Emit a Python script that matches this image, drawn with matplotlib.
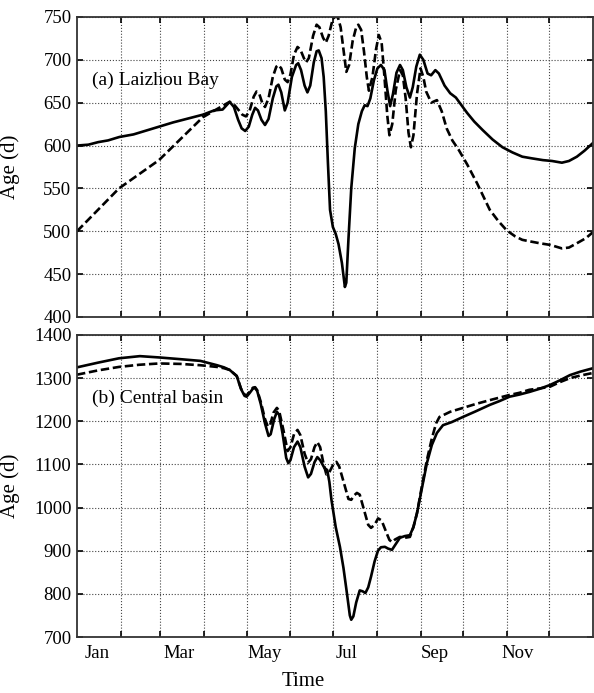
import matplotlib.pyplot as plt
from matplotlib.ticker import FixedLocator, NullFormatter

plt.rcParams['font.family'] = ['Liberation Serif', 'DejaVu Serif']

# day of year / age (d)
a_solid_day = [0, 8, 15, 22, 30, 40, 50, 58, 68, 75, 82, 89, 97, 103, 108,
               111, 114, 116.5, 119, 121.5, 124, 126, 128, 130.5, 133, 135.5, 138.5,
               141, 142.5, 144.5, 147, 149, 152, 155, 156.5, 158.5, 161, 163, 165,
               167.5, 169.5, 171, 173, 174.5, 176, 177.5, 179, 181, 183, 185, 187.4,
               189.5, 190.5, 192, 194, 196.5, 199, 201.5, 203.5, 205.5, 207.5, 210,
               212.5, 215, 217.5, 219.5, 221.5, 223.5, 226, 228.5, 230.5, 233, 235.5,
               237.5, 240, 242.5, 245, 248, 250.5, 253.5, 256, 260, 264, 268, 272,
               276, 281, 287, 294, 301, 308, 315, 322, 329.6, 336, 343, 348, 353.6,
               359, 365]
a_solid_age = [600, 601, 604, 606, 610, 613, 618, 622, 627, 630, 633, 636, 641, 642, 651,
               645, 630, 620, 617, 622, 636, 644, 641, 630, 624, 631, 655,
               669, 671, 662, 641, 650, 680, 694, 696, 688, 670, 662, 670,
               697, 710, 711, 702, 680, 640, 580, 525, 505, 497, 485, 463,
               435, 440, 490, 550, 597, 625, 640, 647, 646, 655, 676,
               690, 694, 688, 665, 646, 660, 685, 694, 688, 668, 656,
               668, 692, 706, 700, 684, 682, 688, 684, 670, 661, 656, 647,
               638, 628, 618, 607, 598, 592, 587, 585, 583, 582, 580, 582, 587,
               594, 603]

a_dash_day = [0, 29.7, 58, 89, 101.6, 108, 111, 114, 117, 119.5, 122, 125, 127, 129,
              131, 133, 135.5, 138.5, 141, 142.5, 144.5, 147, 149, 151, 153.5, 156,
              158, 160.5, 162, 164, 167, 169.5, 171.5, 174, 176, 178, 180.5, 182,
              184.5, 186.5, 188.5, 190.5, 192.5, 195, 197.5, 199, 201, 203, 205,
              206.5, 209, 211.5, 213.5, 215.5, 217.5, 219.5, 221, 223, 225.5, 228.5,
              230.5, 232.5, 234.5, 236.2, 238, 240.5, 243, 245, 247, 250.6, 254.6,
              258, 261.5, 265.5, 270, 276, 283, 292, 298, 304, 310, 315, 321, 327.4,
              335, 343, 348, 353.6, 360, 365]
a_dash_age = [500, 550, 583, 633, 645, 651, 648, 642, 636, 634, 640, 657, 663, 660,
              650, 645, 655, 680, 692, 694, 690, 677, 674, 683, 706, 715,
              712, 702, 697, 702, 728, 741, 738, 726, 720, 728, 745, 750,
              750, 738, 712, 686, 694, 722, 738, 741, 735, 710, 680,
              664, 680, 712, 729, 720, 680, 635, 612, 625, 665, 688,
              682, 655, 615, 598, 612, 660, 690, 680, 663, 650, 653,
              640, 620, 606, 595, 578, 556, 525, 512, 501, 494, 490, 488, 486,
              484, 480, 481, 486, 492, 499]

b_solid_day = [0, 15, 29.7, 44.5, 58, 73, 87.3, 99, 104, 108, 113, 116, 118.5, 120,
               122, 124.5, 126, 127.5, 130, 133, 135.5, 137, 139.5, 141.4, 143, 145.5,
               148, 149.5, 151, 153.5, 156, 158, 161, 163.5, 165.5, 168, 170, 172,
               175, 177, 178.5, 180, 183, 186, 188.5, 191, 193, 194, 195.5, 197.5,
               200, 202, 204, 206, 208, 210.5, 212.9, 215, 217.8, 220, 222.8, 225,
               228.4, 232, 235.5, 238, 240.5, 244, 247.5, 251, 254.6, 258.9, 265,
               273, 282, 292, 299, 306, 313, 320, 327, 334.5, 341, 348.7, 356, 365]
b_solid_age = [1325, 1336, 1346, 1351, 1348, 1344, 1340, 1330, 1325, 1319, 1305, 1275, 1259, 1257,
               1265, 1276, 1277, 1270, 1240, 1195, 1166, 1170, 1205, 1222, 1215, 1170,
               1115, 1103, 1110, 1140, 1153, 1140, 1095, 1070, 1078, 1105, 1117, 1110,
               1092, 1087, 1060, 1018, 955, 909, 860, 800, 750, 740, 748, 780,
               808, 806, 802, 815, 840, 875, 900, 908, 909, 905, 902, 913,
               930, 934, 936, 955, 987, 1045, 1103, 1145, 1173, 1191, 1198,
               1210, 1223, 1238, 1247, 1257, 1262, 1268, 1275, 1284, 1294, 1307, 1315, 1323]

b_dash_day = [0, 15, 29.7, 44, 58, 73, 87, 99, 104, 108, 113, 116, 118.5, 120, 122,
              124.5, 126, 127.5, 130, 133, 135, 136.5, 139, 141.4, 143, 146, 149, 151,
              153.5, 156, 158, 161, 163.4, 165.5, 168, 170, 172, 174.5, 176.4, 178.5,
              181, 183.5, 185.5, 189, 192, 194, 196, 198, 200, 203, 206, 208, 210.5,
              213, 215.5, 218.5, 221, 222.8, 225, 228.4, 232, 235.5, 238, 240.5, 244,
              247.5, 251, 254, 256.4, 264, 273, 282, 292, 299, 306, 313, 320, 327,
              334.5, 341, 348.7, 356, 365]
b_dash_age = [1308, 1318, 1326, 1331, 1334, 1333, 1330, 1326, 1323, 1319, 1305, 1276, 1262, 1260, 1268,
              1278, 1279, 1272, 1245, 1205, 1188, 1190, 1220, 1231, 1224, 1180, 1131, 1140,
              1170, 1180, 1168, 1125, 1104, 1112, 1140, 1152, 1140, 1100, 1077, 1082,
              1098, 1106, 1095, 1055, 1020, 1018, 1028, 1034, 1030, 995, 960, 953, 960,
              975, 970, 945, 925, 920, 926, 932, 930, 932, 955, 987, 1050,
              1110, 1160, 1195, 1210, 1222, 1231, 1240, 1249, 1255, 1261, 1266, 1273, 1276,
              1280, 1290, 1300, 1306, 1312]

month_starts = [31, 59, 90, 120, 151, 181, 212, 243, 273, 304, 334]
label_days = [14, 72, 133, 191, 253, 312]
label_names = ['Jan', 'Mar', 'May', 'Jul', 'Sep', 'Nov']

fig = plt.figure(figsize=(5.94, 6.93), dpi=100)
ax1 = fig.add_axes([0.1296, 0.5426, 0.8687, 0.4329])
ax2 = fig.add_axes([0.1296, 0.0808, 0.8687, 0.4358])

panels = [
    (ax1, a_solid_day, a_solid_age, a_dash_day, a_dash_age, (400, 750), range(400, 751, 50), '(a) Laizhou Bay'),
    (ax2, b_solid_day, b_solid_age, b_dash_day, b_dash_age, (700, 1400), range(700, 1401, 100), '(b) Central basin'),
]

for ax, sd, sa, dd, da, ylim, yt, title in panels:
    ax.plot(sd, sa, color='black', lw=1.9, ls='-')
    ax.plot(dd, da, color='black', lw=1.9, ls=(0, (3.2, 1.4)))
    ax.set_xlim(0, 365)
    ax.set_ylim(*ylim)
    ax.set_yticks(list(yt))
    ax.xaxis.set_major_locator(FixedLocator(month_starts))
    ax.xaxis.set_major_formatter(NullFormatter())
    ax.grid(True, which='major', color='#444444', ls=':', lw=0.8)
    ax.tick_params(which='major', direction='in', length=4, width=1.2,
                   top=True, right=True, labelsize=13.5, colors='black')
    ax.tick_params(axis='y', pad=4)
    for s in ax.spines.values():
        s.set_linewidth(1.3)
        s.set_color('#333333')
    ax.set_ylabel('Age (d)', fontsize=15)
    ax.yaxis.set_label_coords(-0.11, 0.5)
    ax.text(0.029, 0.79, title, transform=ax.transAxes, fontsize=14,
            ha='left', va='center')

ax2.xaxis.set_minor_locator(FixedLocator(label_days))
ax2.set_xticklabels(label_names, minor=True)
ax2.tick_params(axis='x', which='minor', length=0, labelsize=13.5, pad=6)
ax1.tick_params(axis='x', which='minor', length=0)

fig.text(303 / 594, 1 - 682 / 693, 'Time', fontsize=15, ha='center', va='center')

fig.savefig('out.png', dpi=100)
